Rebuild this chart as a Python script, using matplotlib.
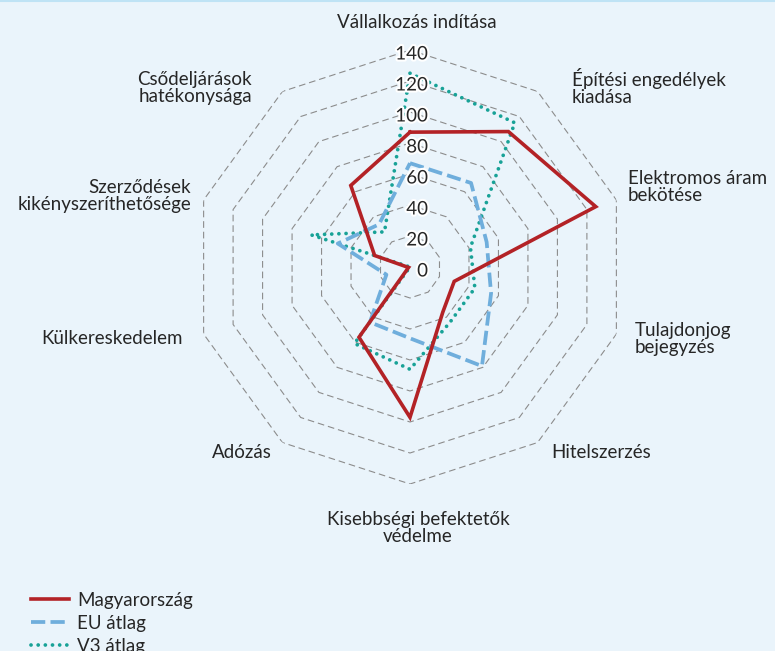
import matplotlib.pyplot as plt
import matplotlib.patheffects as pe
from matplotlib import transforms
import numpy as np

plt.rcParams['font.family'] = ['Lato', 'DejaVu Sans']

# adatok (leolvasva az ábráról)
kategoriak = ['Vállalkozás indítása', 'Építési engedélyek\nkiadása', 'Elektromos áram\nbekötése',
              'Tulajdonjog\nbejegyzés', 'Hitelszerzés', 'Kisebbségi befektetők\nvédelme',
              'Adózás', 'Külkereskedelem', 'Szerződések\nkikényszeríthetősége',
              'Csődeljárások\nhatékonysága']
magyarorszag = [87, 108, 126, 30, 36, 97, 56, 1, 24, 65]
eu_atlag = [67, 67, 52, 55, 79, 46, 44, 16, 49, 34]
v3_atlag = [125, 115, 41, 44, 44, 66, 61, 0, 67, 28]
skala = [0, 20, 40, 60, 80, 100, 120, 140]

# felirat helyek pixelben (x, y, ha)
W, H = 775, 651
felirat_hely = [(417, 23, 'center'), (572, 87, 'left'), (628, 187, 'left'), (635, 339, 'left'),
                (551, 452, 'left'), (418, 528, 'center'), (272, 452, 'right'), (183, 338, 'right'),
                (191, 196, 'right'), (252, 88, 'right')]

bg = '#EAF4FB'
szoveg = '#262626'
fs = 13.5

fig = plt.figure(figsize=(W / 100, H / 100), dpi=100)
fig.patch.set_facecolor(bg)
ax = fig.add_axes([193 / W, 167 / H, 434 / W, 434 / H], projection='polar')
ax.set_facecolor('none')
ax.set_theta_zero_location('N')
ax.set_theta_direction(-1)
ax.set_ylim(0, 140)
ax.grid(False)
ax.spines['polar'].set_visible(False)
ax.set_xticks([])
ax.set_yticks([])

n = len(kategoriak)
szogek = np.linspace(0, 2 * np.pi, n, endpoint=False)
zart = np.append(szogek, szogek[0])

# rácskörök (tízszög)
for r in skala[1:]:
    ax.plot(zart, [r] * (n + 1), color='#8C8C8C', lw=0.8, linestyle=(0, (6, 3.5)), zorder=1)

def zar(v):
    return list(v) + [v[0]]

l3, = ax.plot(zart, zar(v3_atlag), color='#18A297', lw=2.7, linestyle=(0, (0.01, 1.9)),
              dash_capstyle='round', zorder=3, label='V3 átlag')
l2, = ax.plot(zart, zar(eu_atlag), color='#6FAEDC', lw=2.7, linestyle=(0, (3.8, 1.4)),
              zorder=4, label='EU átlag')
l1, = ax.plot(zart, zar(magyarorszag), color='#B32226', lw=2.6, zorder=5,
              solid_joinstyle='miter', label='Magyarország')

# skála feliratok
eltol = transforms.offset_copy(ax.transData, fig=fig, x=18, y=-4, units='dots')
for v in skala:
    ax.text(0, v, str(v), transform=eltol, ha='right', va='center', fontsize=fs,
            color=szoveg, zorder=6, clip_on=False,
            path_effects=[pe.withStroke(linewidth=3, foreground='white')])

for lab, (x, y, ha) in zip(kategoriak, felirat_hely):
    fig.text(x / W, 1 - y / H, lab, ha=ha, va='center', fontsize=fs, color=szoveg,
             multialignment=ha, linespacing=1.0)

fig.legend(handles=[l1, l2, l3], loc='upper left', bbox_to_anchor=(31 / W, 1 - 592 / H),
           frameon=False, borderpad=0, borderaxespad=0, handlelength=2.0, handletextpad=0.45,
           labelspacing=0.32, fontsize=fs, labelcolor=szoveg)

fig.add_artist(plt.Line2D([0, 1], [1 - 1 / H, 1 - 1 / H], transform=fig.transFigure,
                          color='#BFE3F5', lw=1.5))

fig.savefig('out.png', dpi=100, facecolor=bg)
